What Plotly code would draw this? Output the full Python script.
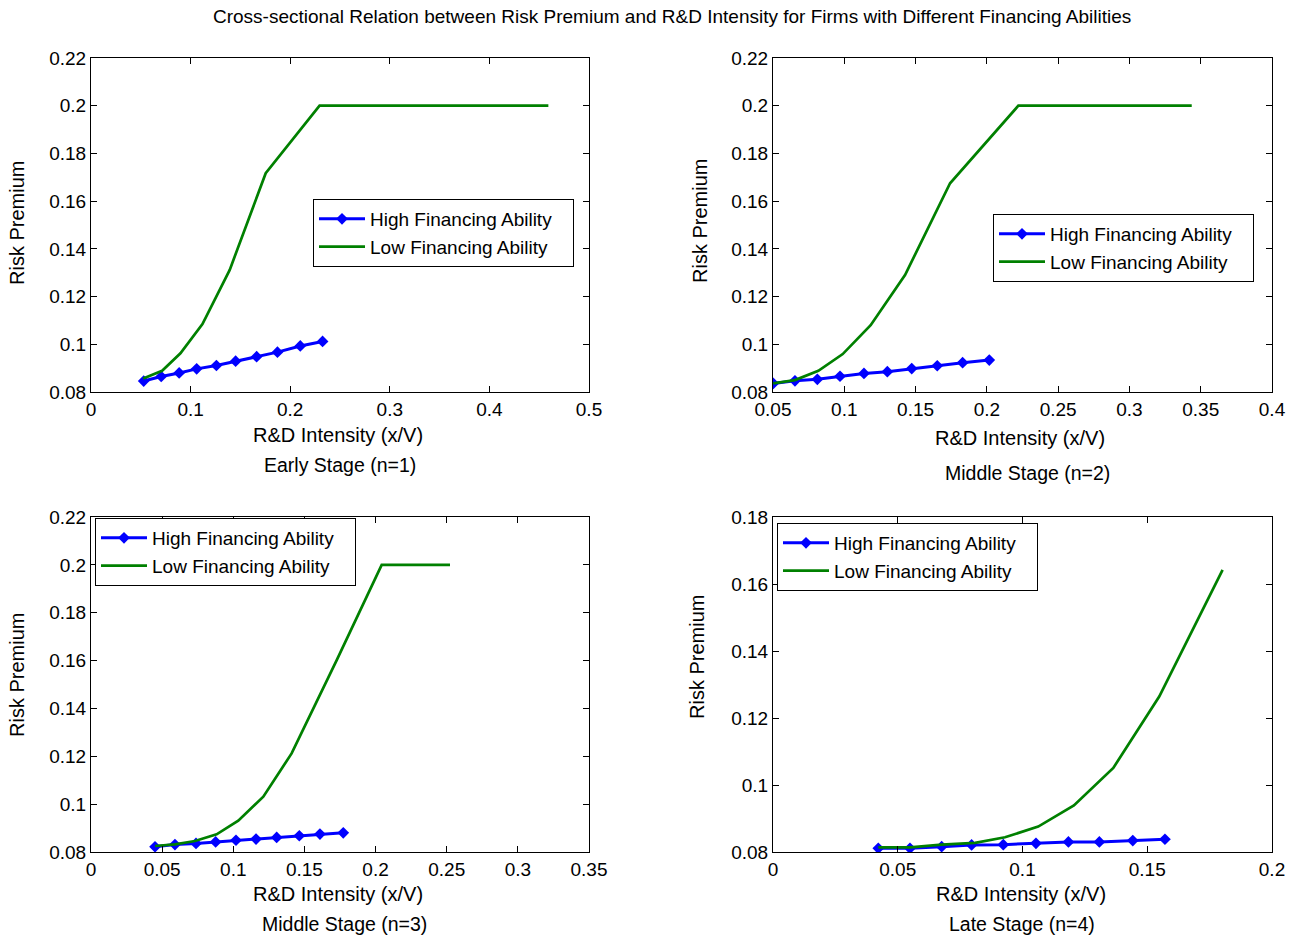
import plotly.graph_objects as go

# ---- data -------------------------------------------------------------
# Early Stage (n=1)
s1_high_x = [0.0529, 0.0705, 0.0885, 0.1061, 0.1259, 0.1452, 0.1663, 0.1872, 0.2101, 0.2325]
s1_high_y = [0.0846, 0.0865, 0.0880, 0.0897, 0.0911, 0.0929, 0.0948, 0.0967, 0.0993, 0.1012]
s1_low_x = [0.0524, 0.0714, 0.0898, 0.1119, 0.1393, 0.1754, 0.2295, 0.4592]
s1_low_y = [0.0857, 0.0889, 0.0962, 0.1085, 0.1312, 0.1717, 0.2000, 0.2000]

# Middle Stage (n=2)
s2_high_x = [0.0502, 0.0654, 0.0811, 0.0970, 0.1138, 0.1302, 0.1473, 0.1652, 0.1830, 0.2017]
s2_high_y = [0.0836, 0.0847, 0.0853, 0.0866, 0.0878, 0.0885, 0.0898, 0.0910, 0.0923, 0.0934]
s2_low_x = [0.0502, 0.0654, 0.0818, 0.0989, 0.1185, 0.1426, 0.1742, 0.2221, 0.3437]
s2_low_y = [0.0836, 0.0850, 0.0889, 0.0959, 0.1080, 0.1290, 0.1675, 0.2000, 0.2000]

# Middle Stage (n=3)
s3_high_x = [0.0450, 0.0590, 0.0738, 0.0876, 0.1019, 0.1160, 0.1305, 0.1464, 0.1609, 0.1773]
s3_high_y = [0.0822, 0.0831, 0.0836, 0.0842, 0.0849, 0.0854, 0.0861, 0.0868, 0.0875, 0.0880]
s3_low_x = [0.0450, 0.0590, 0.0731, 0.0883, 0.1035, 0.1211, 0.1410, 0.1727, 0.2043, 0.2523]
s3_low_y = [0.0825, 0.0832, 0.0846, 0.0874, 0.0931, 0.1031, 0.1212, 0.1602, 0.2000, 0.2000]

# Late Stage (n=4)
s4_high_x = [0.0422, 0.0549, 0.0676, 0.0796, 0.0923, 0.1054, 0.1184, 0.1308, 0.1442, 0.1571]
s4_high_y = [0.0811, 0.0811, 0.0816, 0.0821, 0.0822, 0.0826, 0.0830, 0.0830, 0.0834, 0.0838]
s4_low_x = [0.0422, 0.0549, 0.0676, 0.0810, 0.0930, 0.1063, 0.1206, 0.1364, 0.1548, 0.1802]
s4_low_y = [0.0814, 0.0814, 0.0822, 0.0827, 0.0844, 0.0876, 0.0939, 0.1051, 0.1264, 0.1642]

# ---- tick labels --------------------------------------------------------
x1_ticks = [0, 0.1, 0.2, 0.3, 0.4, 0.5]
x1_labels = ["0", "0.1", "0.2", "0.3", "0.4", "0.5"]
x2_ticks = [0.05, 0.1, 0.15, 0.2, 0.25, 0.3, 0.35, 0.4]
x2_labels = ["0.05", "0.1", "0.15", "0.2", "0.25", "0.3", "0.35", "0.4"]
x3_ticks = [0, 0.05, 0.1, 0.15, 0.2, 0.25, 0.3, 0.35]
x3_labels = ["0", "0.05", "0.1", "0.15", "0.2", "0.25", "0.3", "0.35"]
x4_ticks = [0, 0.05, 0.1, 0.15, 0.2]
x4_labels = ["0", "0.05", "0.1", "0.15", "0.2"]
y_ticks = [0.08, 0.1, 0.12, 0.14, 0.16, 0.18, 0.2, 0.22]
y_labels = ["0.08", "0.1", "0.12", "0.14", "0.16", "0.18", "0.2", "0.22"]
y4_ticks = [0.08, 0.1, 0.12, 0.14, 0.16, 0.18]
y4_labels = ["0.08", "0.1", "0.12", "0.14", "0.16", "0.18"]

series_names = ["High Financing Ability", "Low Financing Ability"]
stage_names = ["Early Stage (n=1)", "Middle Stage (n=2)", "Middle Stage (n=3)", "Late Stage (n=4)"]
x_title = "R&D Intensity (x/V)"
y_title = "Risk Premium"
main_title = ("Cross-sectional Relation between Risk Premium and R&D Intensity "
              "for Firms with Different Financing Abilities")

# ---- page geometry ----------------------------------------------------
W, H = 1299, 940
FONT = "Arial, Liberation Sans, Helvetica, sans-serif"
BLUE = "#0000ff"
GREEN = "#008000"
LEGEND_PAD = "\u00a0" * 3   # a little room after the legend labels


def px(x):
    return x / W


def py(y):
    return 1 - y / H


# plot-area boxes in pixels: (left, right, top, bottom)
boxes = [(91, 589, 58, 392), (773, 1272, 58, 392),
         (91, 589, 517, 852), (773, 1272, 517, 852)]

panels = [
    (s1_high_x, s1_high_y, s1_low_x, s1_low_y, [0, 0.5], x1_ticks, x1_labels, [0.08, 0.22], y_ticks, y_labels),
    (s2_high_x, s2_high_y, s2_low_x, s2_low_y, [0.05, 0.4], x2_ticks, x2_labels, [0.08, 0.22], y_ticks, y_labels),
    (s3_high_x, s3_high_y, s3_low_x, s3_low_y, [0, 0.35], x3_ticks, x3_labels, [0.08, 0.22], y_ticks, y_labels),
    (s4_high_x, s4_high_y, s4_low_x, s4_low_y, [0, 0.2], x4_ticks, x4_labels, [0.08, 0.18], y4_ticks, y4_labels),
]

# legend top-left corners in pixels
legend_pos = [(313, 199), (993, 214), (95, 518), (777, 523)]

fig = go.Figure()
layout = dict(
    width=W, height=H,
    margin=dict(l=0, r=0, t=0, b=0, pad=0, autoexpand=False),
    paper_bgcolor="white", plot_bgcolor="white",
    font=dict(family=FONT, color="black", size=19),
    showlegend=True,
)

annotations = []
for i, (hx, hy, lx, ly, xr, xt, xl, yr, yt, yl) in enumerate(panels):
    k = "" if i == 0 else str(i + 1)
    leg = "legend" + k
    xa, ya = "x" + k, "y" + k
    fig.add_trace(go.Scatter(
        x=hx, y=hy, mode="lines+markers", name=series_names[0] + LEGEND_PAD,
        line=dict(color=BLUE, width=3),
        marker=dict(symbol="diamond", size=9, color=BLUE),
        xaxis=xa, yaxis=ya, legend=leg))
    fig.add_trace(go.Scatter(
        x=lx, y=ly, mode="lines", name=series_names[1] + LEGEND_PAD,
        line=dict(color=GREEN, width=2.7),
        xaxis=xa, yaxis=ya, legend=leg))

    l, r, t, b = boxes[i]
    axis_common = dict(showline=True, linecolor="black", linewidth=1, mirror="allticks",
                       ticks="inside", ticklen=6, tickcolor="black", tickwidth=1,
                       showgrid=False, zeroline=False, fixedrange=True, automargin=False,
                       tickfont=dict(family=FONT, size=19, color="black"))
    layout["xaxis" + k] = dict(domain=[px(l), px(r)], range=xr, tickvals=xt, ticktext=xl,
                               anchor=ya, **axis_common)
    layout["yaxis" + k] = dict(domain=[py(b), py(t)], range=yr, tickvals=yt, ticktext=yl,
                               anchor=xa, **axis_common)

    lx0, ly0 = legend_pos[i]
    layout[leg] = dict(x=px(lx0), y=py(ly0), xanchor="left", yanchor="top",
                       bordercolor="black", borderwidth=1, bgcolor="white",
                       font=dict(family=FONT, size=19, color="black"),
                       itemwidth=46, tracegroupgap=0)

# axis titles and stage captions
xt_pos = [(338, 435), (1020, 438), (338, 894), (1021, 894)]
st_pos = [(340, 465), (1027, 473), (345, 924), (1022, 924)]
yt_pos = [(17, 223), (700, 221), (17, 675), (697, 657)]
for i in range(4):
    annotations.append(dict(text=x_title, x=px(xt_pos[i][0]), y=py(xt_pos[i][1]),
                            xref="paper", yref="paper", showarrow=False,
                            xanchor="center", yanchor="middle", font=dict(size=20)))
    annotations.append(dict(text=stage_names[i], x=px(st_pos[i][0]), y=py(st_pos[i][1]),
                            xref="paper", yref="paper", showarrow=False,
                            xanchor="center", yanchor="middle", font=dict(size=19.5)))
    annotations.append(dict(text=y_title, x=px(yt_pos[i][0]), y=py(yt_pos[i][1]),
                            xref="paper", yref="paper", showarrow=False, textangle=-90,
                            xanchor="center", yanchor="middle", font=dict(size=20)))

annotations.append(dict(text=main_title, x=px(672), y=py(16), xref="paper", yref="paper",
                        showarrow=False, xanchor="center", yanchor="middle",
                        font=dict(size=19)))
layout["annotations"] = annotations

fig.update_layout(**layout)
fig.write_html("out.html")
